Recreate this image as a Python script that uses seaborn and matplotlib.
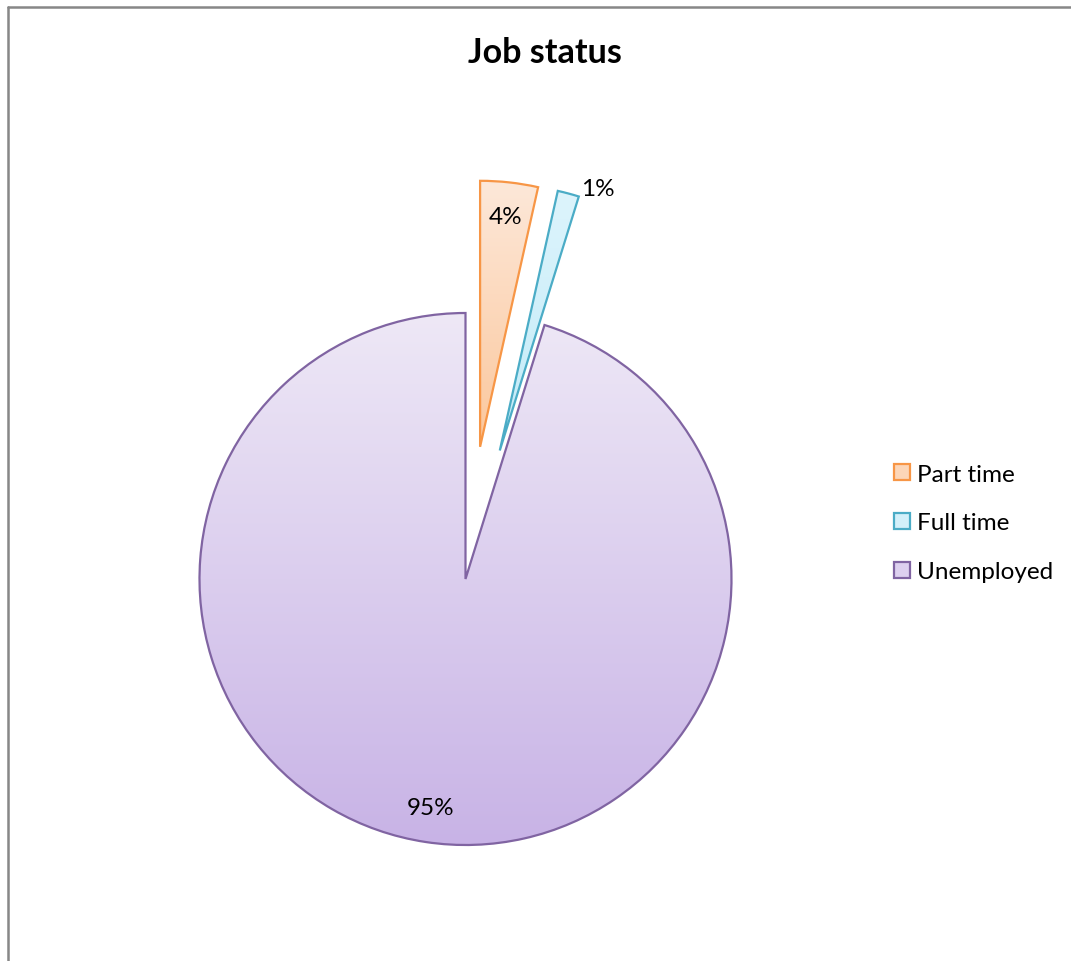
import numpy as np
import matplotlib
matplotlib.use("Agg")
import matplotlib.pyplot as plt
from matplotlib.colors import to_rgb
from matplotlib.patches import Patch
from matplotlib.lines import Line2D
import seaborn as sns

# Job status shares (percent)
categories = ["Part time", "Full time", "Unemployed"]
shares = [3.5, 1.3, 95.2]
explode = [0.5, 0.5, 0.0]

# gradient fills (top colour, bottom colour) and outline colours
top_colors = ["#fde8d9", "#ddf4fc", "#eee8f6"]
bottom_colors = ["#fbc79c", "#c2ebf8", "#c8b3e6"]
edge_colors = ["#f79646", "#4bacc6", "#8064a2"]
legend_fill = ["#fcd6b8", "#d3f0fa", "#ddd0ef"]

sns.set_theme(style="white")
plt.rcParams["font.family"] = ["Lato", "DejaVu Sans"]
plt.rcParams["text.color"] = "black"

W, H, DPI = 1071, 962, 100
fig = plt.figure(figsize=(W / DPI, H / DPI), dpi=DPI)
fig.patch.set_facecolor("white")

# pie geometry in pixels
cx, cy, R = 465.5, 580.0, 266.0
ax = fig.add_axes([0, 0, 1, 1])

wedges, texts, autotexts = ax.pie(
    shares,
    explode=explode,
    startangle=90,
    counterclock=False,
    autopct="%.0f%%",
    pctdistance=0.87,
    wedgeprops=dict(linewidth=1.6, facecolor="none"),
    textprops=dict(fontsize=17.5, color="black"),
)
ax.set_aspect("auto")
ax.set_xlim(-cx / R, (W - cx) / R)
ax.set_ylim(-(H - cy) / R, cy / R)
ax.axis("off")

# vertical gradient inside each slice
for w, top, bot, ec in zip(wedges, top_colors, bottom_colors, edge_colors):
    w.set_edgecolor(ec)
    w.set_zorder(3)
    ext = w.get_path().get_extents()
    t = np.linspace(0, 1, 256)[:, None]
    c0, c1 = np.array(to_rgb(bot)), np.array(to_rgb(top))
    grad = (c0[None, :] * (1 - t) + c1[None, :] * t)[:, None, :]
    im = ax.imshow(grad, extent=[ext.x0, ext.x1, ext.y0, ext.y1],
                   origin="lower", aspect="auto", zorder=2,
                   interpolation="bilinear")
    im.set_clip_path(w)

for txt in autotexts:
    txt.set_zorder(5)

# small slice: label sits just outside its outer edge
w = wedges[1]
th = np.deg2rad(w.theta1)
cxw, cyw = w.center
autotexts[1].set_position((cxw + 1.03 * w.r * np.cos(th), cyw + 1.03 * w.r * np.sin(th)))
autotexts[1].set_ha("left")
autotexts[1].set_va("center")

# title
fig.text(545 / W, 1 - 63 / H, "Job status", ha="center", va="baseline",
         fontsize=24.5, fontweight="bold", color="black")

# legend
handles = [Patch(facecolor=f, edgecolor=e, linewidth=1.6) for f, e in zip(legend_fill, edge_colors)]
leg = fig.legend(handles, categories, loc="center left",
                 bbox_to_anchor=(894 / W, 1 - 524 / H), frameon=False,
                 fontsize=17.5, handlelength=0.66, handleheight=0.66,
                 handletextpad=0.3, labelspacing=1.15, borderpad=0, borderaxespad=0)
for t in leg.get_texts():
    t.set_color("black")

# chart area frame (top and left edges visible)
frame_kw = dict(color="#878787", linewidth=1.8, transform=fig.transFigure)
fig.add_artist(Line2D([8 / W, 8 / W], [1 - 8 / H, -0.01], **frame_kw))
fig.add_artist(Line2D([8 / W, 1.01], [1 - 8 / H, 1 - 8 / H], **frame_kw))

fig.savefig("out.png", dpi=DPI, facecolor="white")
